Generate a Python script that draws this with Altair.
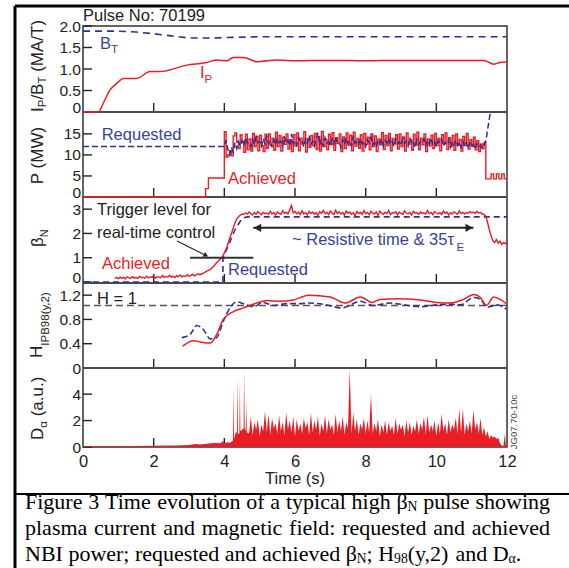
import altair as alt
import pandas as pd

# ---------------- colours / fonts ----------------
RED = "#ec1c24"
BLUE = "#2e3192"
BLUE_T = "#3b3f9e"
INK = "#222222"
SANS = "Liberation Sans"
SERIF = "Liberation Serif"

W, H = 424, 421          # plot area (all five panels)
X0, Y0 = 83, 26          # plot origin on the page

# ---------------- data ----------------
TIME_TICKS = [2, 4, 6, 8, 10]

# panel 1: IP and BT
BT_T = [0, 1.0, 1.5, 2.0, 2.5, 3.0, 3.5, 4.0, 5.0, 12.0]
BT_V = [1.88, 1.88, 1.86, 1.82, 1.77, 1.72, 1.72, 1.73, 1.75, 1.75]
IP_T = [0, 0.43, 0.6, 0.76, 0.95, 1.14, 1.52, 1.9, 2.18, 2.94, 3.5, 3.79, 4.07, 4.25, 4.54,
        4.92, 5.49, 6.05, 7.0, 8.0, 9.0, 10.0, 11.0, 11.34, 11.5, 11.62, 11.8, 12.0]
IP_V = [0, 0, 0.25, 0.51, 0.66, 0.78, 0.78, 0.94, 0.94, 1.09, 1.15, 1.21, 1.19, 1.27, 1.27,
        1.17, 1.21, 1.19, 1.2, 1.19, 1.2, 1.2, 1.2, 1.2, 1.15, 1.11, 1.15, 1.16]

# panel 2: NBI power (sampled every 0.05 s from 4.00 s)
PREQ_HEAD_T = [0, 3.97]
PREQ_HEAD_V = [12.0, 12.0]
PREQ_V = [12.0, 13.5, 11.2, 10.0, 11.8, 10.6, 12.9, 11.5, 13.2, 12.1,
          13.4, 12.2, 14.1, 12.8, 13.0, 11.9, 13.7, 12.5, 14.3, 12.9,
          13.1, 12.0, 13.9, 12.6, 14.5, 12.7, 13.3, 11.8, 13.6, 12.4,
          14.0, 12.9, 13.2, 12.1, 14.4, 12.8, 13.5, 12.2, 15.0, 12.6,
          13.4, 12.3, 14.2, 12.9, 13.1, 11.9, 13.8, 12.7, 14.6, 12.5,
          13.3, 12.1, 13.9, 15.3, 12.4, 13.6, 12.0, 14.1, 12.8, 13.2,
          12.2, 13.8, 12.6, 14.3, 12.9, 13.0, 11.8, 13.7, 12.5, 14.0,
          12.7, 13.4, 12.1, 14.5, 12.8, 13.1, 12.3, 13.9, 12.6, 13.3,
          12.0, 13.6, 12.9, 14.2, 12.4, 13.0, 11.9, 13.5, 12.7, 13.8,
          12.2, 13.4, 12.8, 14.0, 12.5, 13.2, 12.0, 13.7, 12.6, 13.1,
          12.3, 13.9, 12.7, 13.3, 12.1, 14.1, 12.5, 13.0, 11.8, 13.6,
          12.4, 13.2, 12.9, 13.8, 12.2, 13.5, 12.6, 14.0, 12.3, 13.1,
          12.0, 13.4, 12.8, 13.7, 12.1, 13.0, 12.5, 13.6, 11.9, 13.2,
          12.4, 13.5, 12.2, 13.0, 11.8, 13.3, 12.0, 12.9, 11.6, 12.8,
          11.9, 12.6, 11.4, 12.7, 11.8, 12.3, 11.5, 12.4]
PREQ_TAIL_T = [11.40, 11.46, 11.53]
PREQ_TAIL_V = [13.2, 16.5, 20.2]

PACH_HEAD_T = [0, 3.47, 3.55]
PACH_HEAD_V = [0, 2.0, 4.5]
PACH_V = [15.5, 9.5, 10.0, 11.0, 9.8, 14.5, 15.2, 13.0, 11.5, 14.8,
          13.2, 10.6, 14.9, 11.2, 13.8, 10.9, 15.1, 12.0, 14.4, 11.0,
          14.7, 12.2, 10.8, 14.9, 11.6, 15.0, 12.3, 13.9, 11.1, 15.4,
          12.0, 14.6, 10.9, 14.2, 12.5, 15.0, 11.4, 13.6, 10.8, 14.8,
          12.1, 15.2, 11.0, 14.0, 12.6, 15.5, 10.7, 13.9, 11.8, 14.6,
          12.2, 15.1, 11.3, 14.4, 10.9, 15.6, 12.0, 13.7, 11.2, 14.9,
          12.4, 15.3, 11.1, 14.1, 12.7, 15.0, 10.8, 14.3, 11.5, 15.2,
          12.3, 14.7, 11.0, 15.4, 12.1, 13.9, 11.6, 14.8, 10.9, 15.1,
          12.5, 14.2, 11.2, 15.0, 12.0, 14.5, 10.8, 13.8, 12.4, 15.3,
          11.3, 14.6, 12.2, 15.1, 11.0, 13.9, 12.6, 14.8, 11.4, 15.0,
          12.0, 14.3, 10.9, 15.2, 12.5, 13.6, 11.1, 14.9, 12.3, 15.4,
          11.2, 14.0, 12.4, 15.0, 10.8, 13.8, 12.1, 14.7, 11.5, 15.1,
          12.2, 13.9, 11.0, 14.8, 12.6, 15.2, 11.3, 14.1, 12.0, 14.6,
          11.1, 15.0, 12.3, 13.7, 10.9, 14.4, 12.2, 15.1, 11.4, 13.6,
          12.0, 14.2, 11.2, 13.4, 10.8, 12.6, 11.5, 13.0]
PACH_TAIL_T = [11.40, 11.55, 11.62, 11.70, 11.77, 11.85, 11.92, 12.0]
PACH_TAIL_V = [4.3, 5.5, 4.3, 5.5, 4.3, 5.5, 4.3, 4.3]

# panel 3: beta_N
BREQ_T = [0, 3.96, 3.96, 4.1, 4.3, 4.5, 4.65, 12.0]
BREQ_V = [0, 0, 1.0, 1.45, 2.15, 2.62, 2.68, 2.68]
BLOW_V = [0.15, 0.18, 0.14, 0.20, 0.16, 0.19, 0.13, 0.21, 0.17, 0.15,
          0.22, 0.16, 0.19, 0.14, 0.23, 0.18, 0.20, 0.15, 0.24, 0.17,
          0.21, 0.19, 0.26, 0.16, 0.22, 0.20, 0.18, 0.27, 0.19, 0.23,
          0.21, 0.28, 0.20, 0.24, 0.18, 0.26, 0.22, 0.29, 0.21, 0.25,
          0.23, 0.30, 0.24, 0.27, 0.32, 0.25, 0.29, 0.34, 0.30, 0.33,
          0.36, 0.40, 0.45]
BRAMP_T = [3.60, 3.70, 3.78, 3.85, 3.93, 4.00, 4.07, 4.14, 4.21, 4.28, 4.35, 4.42, 4.50]
BRAMP_V = [0.51, 0.65, 0.79, 0.90, 1.00, 1.20, 1.42, 1.75, 2.04, 2.35, 2.60, 2.72, 2.80]
BHIGH_V = [2.78, 2.85, 2.80, 2.88, 2.82, 2.76, 2.86, 2.79, 2.90, 2.83,
           2.77, 2.87, 2.81, 2.84, 2.78, 2.92, 2.80, 2.86, 2.75, 2.89,
           2.82, 2.79, 2.94, 2.83, 2.88, 2.80, 2.97, 3.15, 2.84, 2.90,
           2.81, 2.87, 2.78, 2.93, 2.80, 2.85, 2.76, 2.91, 2.82, 2.88,
           2.79, 2.86, 2.74, 2.90, 2.83, 2.95, 2.81, 2.87, 2.77, 2.92,
           2.84, 2.78, 2.96, 2.82, 2.89, 2.80, 2.86, 2.75, 2.93, 2.83,
           2.88, 2.79, 2.85, 2.72, 2.90, 2.82, 2.87, 2.78, 2.94, 2.81,
           2.86, 2.77, 2.91, 2.83, 2.80, 2.88, 2.74, 2.92, 2.84, 2.79,
           2.87, 2.81, 2.95, 2.78, 2.85, 2.83, 2.90, 2.76, 2.88, 2.82,
           2.79, 2.93, 2.84, 2.80, 2.87, 2.75, 2.91, 2.83, 2.86, 2.78,
           2.89, 2.82, 2.85, 2.79, 2.94, 2.81, 2.87, 2.77, 2.90, 2.84,
           2.80, 2.86, 2.78, 2.92, 2.83, 2.88, 2.76, 2.85, 2.81, 2.89,
           2.84, 2.79, 2.93, 2.82, 2.87, 2.80, 2.86, 2.83, 2.90, 2.85,
           2.88, 2.82, 2.91, 2.84, 2.87, 2.80]
BDROP_T = [11.35, 11.40, 11.45, 11.50, 11.55, 11.60, 11.65, 11.70, 11.75, 11.80, 11.85, 11.90, 11.95, 12.0]
BDROP_V = [2.78, 2.70, 2.45, 2.15, 1.90, 1.70, 1.62, 1.75, 1.60, 1.68, 1.55, 1.62, 1.58, 1.66]
TRIGGER = 1.0
TRIGGER_T = [3.03, 4.82]
RESIST_T = [4.82, 11.05]
RESIST_Y = 2.23

# panel 4: H98(y,2)
HR_T = [2.82, 3.12, 3.31, 3.6, 3.78, 3.97, 4.26, 4.54, 4.92, 5.2, 5.58, 5.96, 6.38, 7.0, 7.42,
        7.85, 8.18, 8.41, 8.89, 9.55, 10.02, 10.4, 10.77, 11.06, 11.25, 11.42, 11.62, 11.81, 11.98]
HR_V = [0.36, 0.45, 0.43, 0.41, 0.55, 0.8, 0.93, 0.99, 1.07, 1.11, 1.1, 1.12, 1.2, 1.17, 1.07,
        1.17, 1.08, 1.13, 1.14, 1.12, 1.08, 1.07, 1.13, 1.21, 1.16, 1.03, 1.17, 1.13, 1.06]
HB_T = [2.8, 3.03, 3.22, 3.41, 3.6, 3.78, 3.97, 4.16, 4.35, 4.54, 4.82, 5.1, 5.39, 5.77, 6.15,
        6.38, 6.8, 7.33, 7.85, 8.18, 8.7, 8.98, 9.55, 10.02, 10.4, 10.68, 11.06, 11.25, 11.44,
        11.72, 11.98]
HB_V = [0.5, 0.55, 0.70, 0.63, 0.48, 0.5, 0.77, 0.99, 1.09, 1.06, 1.01, 1.08, 1.03, 1.06, 1.06,
        1.07, 1.05, 0.99, 1.1, 1.03, 1.07, 1.05, 1.01, 1.04, 1.05, 1.04, 1.16, 1.13, 1.0, 1.04, 0.97]
H_ONE = 1.03

# panel 5: D-alpha
DA_HEAD_T = [0, 0.5, 1.0, 1.5, 2.0, 2.3, 2.6, 3.0, 3.2, 3.3, 3.5, 3.7, 3.9, 3.95, 4.0, 4.1, 4.15,
             4.2, 4.245, 4.26, 4.275, 4.33, 4.355, 4.37, 4.385, 4.425, 4.44, 4.455, 4.5, 4.545,
             4.56, 4.575, 4.605, 4.62, 4.635, 4.66]
DA_HEAD_V = [0.05, 0.05, 0.06, 0.08, 0.1, 0.12, 0.12, 0.15, 0.22, 0.18, 0.25, 0.3, 0.28, 0.45, 0.3,
             0.35, 0.3, 0.4, 0.5, 4.4, 0.6, 1.2, 1.0, 5.2, 1.0, 1.0, 4.8, 1.2, 1.3, 1.4,
             5.9, 1.5, 1.2, 3.4, 1.1, 1.1]
DA_V = [1.0, 2.3, 0.9, 1.9, 1.3, 2.1, 0.8, 1.7, 1.2, 2.7,
        1.1, 2.5, 0.9, 2.2, 1.4, 1.8, 1.0, 2.4, 1.2, 1.9,
        0.9, 2.6, 1.3, 2.0, 1.1, 2.3, 0.8, 2.1, 1.2, 1.8,
        1.0, 2.2, 1.4, 1.9, 0.9, 2.6, 1.1, 2.0, 1.3, 2.3,
        0.8, 1.8, 1.2, 2.4, 1.0, 2.1, 1.3, 1.7, 0.9, 2.5,
        1.1, 2.0, 1.2, 2.3, 0.9, 1.9, 1.4, 5.9, 1.0, 2.6,
        1.2, 2.1, 0.9, 1.8, 1.3, 2.2, 1.0, 2.0, 1.1, 4.0,
        1.0, 1.8, 1.2, 2.1, 0.8, 1.7, 1.1, 2.0, 0.9, 1.9,
        1.2, 1.6, 0.9, 2.2, 1.0, 1.8, 1.3, 1.7, 0.8, 2.0,
        1.1, 1.9, 0.9, 1.6, 1.2, 2.1, 1.0, 1.8, 1.3, 2.3,
        0.9, 2.4, 1.1, 1.7, 1.2, 2.0, 0.8, 1.9, 1.0, 2.5,
        1.2, 1.8, 0.9, 2.1, 1.1, 1.7, 1.3, 2.2, 1.0, 2.9,
        1.1, 2.9, 0.9, 1.8, 1.2, 2.0, 1.0, 2.8, 1.3, 1.9,
        1.0, 2.2, 0.9, 1.5, 0.8, 1.2, 0.6, 0.9]
DA_TAIL_T = [11.60, 11.65, 11.70, 11.75, 11.80, 11.85, 11.90, 11.94, 11.97, 12.0]
DA_TAIL_V = [0.7, 0.8, 0.6, 0.7, 0.3, 0.1, 0.1, 1.0, 0.1, 0.1]

CAPTION = [
    [[("Figure", 0)], [("3", 0)], [("Time", 0)], [("evolution", 0)], [("of", 0)], [("a", 0)],
     [("typical", 0)], [("high", 0)], [("β", 0), ("N", 1)], [("pulse", 0)], [("showing", 0)]],
    [[("plasma", 0)], [("current", 0)], [("and", 0)], [("magnetic", 0)], [("field:", 0)],
     [("requested", 0)], [("and", 0)], [("achieved", 0)]],
    [[("NBI", 0)], [("power;", 0)], [("requested", 0)], [("and", 0)], [("achieved", 0)],
     [("β", 0), ("N", 1), (";", 0)], [("H", 0), ("98", 1), ("(y,2)", 0)], [("and", 0)],
     [("D", 0), ("α", 1), (".", 0)]],
]


# ---------------- helpers ----------------
def grid(start, n, step=0.05):
    return [round(start + i * step, 3) for i in range(n)]


def series(*pairs):
    t, v = [], []
    for tt, vv in pairs:
        t += list(tt)
        v += list(vv)
    return pd.DataFrame({"t": t, "v": v})


xs = alt.Scale(domain=[0, 12], nice=False, zero=False)
xax = alt.Axis(values=[0, 2, 4, 6, 8, 10, 12], ticks=False, domain=False, grid=False,
               labelFont=SANS, labelFontSize=16.5, labelColor=INK, labelPadding=6,
               labelFlush=False, title=None)
X = alt.X("t:Q", scale=xs, axis=xax)

PANELS = {
    1: dict(domain=[0, 2.0], range=[86, 0], ticks=[0, 0.5, 1.0, 1.5, 2.0], fmt=".1f", lift=True),
    2: dict(domain=[0, 20.2], range=[171, 86], ticks=[0, 5, 10, 15], fmt="d", lift=True),
    3: dict(domain=[0, 3.5], range=[256, 171], ticks=[0, 1, 2, 3], fmt="d", lift=True),
    4: dict(domain=[0, 1.4], range=[342, 257], ticks=[0, 0.4, 0.8, 1.2], fmt=".1f", lift=False),
    5: dict(domain=[0, 5.9], range=[421, 343], ticks=[0, 2, 4], fmt="d", lift=False),
}
BOTTOMS = [86, 171, 257, 342, 421]


def yscale(k):
    p = PANELS[k]
    return alt.Scale(domain=p["domain"], range=p["range"], nice=False, zero=False)


def yaxis(k):
    p = PANELS[k]
    extra = {}
    if p["lift"]:
        extra["labelBaseline"] = alt.condition("datum.value == 0", alt.value("alphabetic"),
                                               alt.value("middle"))
    return alt.Axis(orient="left", values=p["ticks"], ticks=False, domain=False, grid=False,
                    labelFont=SANS, labelFontSize=15.5, labelColor=INK, labelPadding=2.5,
                    labelExpr="datum.value == 0 ? '0' : format(datum.value, '%s')" % p["fmt"],
                    title=None, **extra)


def Y(k, field="v", axis=False):
    return alt.Y(field + ":Q", scale=yscale(k), axis=yaxis(k) if axis else None)


layers = []

# y axes + inward y ticks
for k in PANELS:
    dft = pd.DataFrame({"v": PANELS[k]["ticks"]})
    layers.append(alt.Chart(dft).mark_rule(color=INK, strokeWidth=1.4).encode(
        x=alt.value(0), x2=alt.value(9), y=Y(k, axis=True)))

# inward x ticks at the bottom of each panel
xt = pd.DataFrame([{"t": t, "yb": b, "yt": b - 9} for b in BOTTOMS for t in TIME_TICKS])
layers.append(alt.Chart(xt).mark_rule(color=INK, strokeWidth=1.4).encode(
    x=X, y=alt.Y("yb:Q", scale=None), y2=alt.Y2("yt:Q")))

# panel separators
sep = pd.DataFrame({"y": BOTTOMS[:-1]})
layers.append(alt.Chart(sep).mark_rule(color="#4a4a4a", strokeWidth=2).encode(
    x=alt.value(0), x2=alt.value(W), y=alt.Y("y:Q", scale=None)))

# panel 1
layers.append(alt.Chart(series((BT_T, BT_V))).mark_line(
    color=BLUE, strokeWidth=1.6, strokeDash=[7, 5]).encode(x=X, y=Y(1)))
layers.append(alt.Chart(series((IP_T, IP_V))).mark_line(
    color=RED, strokeWidth=1.5, interpolate="monotone").encode(x=X, y=Y(1)))

# panel 2
pach = series((PACH_HEAD_T, PACH_HEAD_V), (grid(4.0, len(PACH_V)), PACH_V), (PACH_TAIL_T, PACH_TAIL_V))
layers.append(alt.Chart(pach).mark_line(color=RED, strokeWidth=1.4, interpolate="step-after").encode(
    x=X, y=Y(2)))
preq = series((PREQ_HEAD_T, PREQ_HEAD_V), (grid(4.0, len(PREQ_V)), PREQ_V), (PREQ_TAIL_T, PREQ_TAIL_V))
layers.append(alt.Chart(preq).mark_line(color=BLUE, strokeWidth=1.5, strokeDash=[6, 3]).encode(
    x=X, y=Y(2)))

# panel 3
layers.append(alt.Chart(series((BREQ_T, BREQ_V))).mark_line(
    color=BLUE, strokeWidth=1.6, strokeDash=[6, 4]).encode(x=X, y=Y(3)))
bach = series((grid(0.9, len(BLOW_V)), BLOW_V), (BRAMP_T, BRAMP_V),
              (grid(4.55, len(BHIGH_V)), BHIGH_V), (BDROP_T, BDROP_V))
layers.append(alt.Chart(bach).mark_line(color=RED, strokeWidth=1.4).encode(x=X, y=Y(3)))
trig = pd.DataFrame({"t": [TRIGGER_T[0]], "t2": [TRIGGER_T[1]], "v": [TRIGGER]})
layers.append(alt.Chart(trig).mark_rule(color="#333333", strokeWidth=2).encode(
    x=X, x2="t2:Q", y=Y(3)))
res = pd.DataFrame({"t": [RESIST_T[0]], "t2": [RESIST_T[1]], "v": [RESIST_Y]})
layers.append(alt.Chart(res).mark_rule(color="#222222", strokeWidth=2).encode(
    x=X, x2="t2:Q", y=Y(3)))
heads = [("triangle-left", RESIST_T[0] + 0.12), ("triangle-right", RESIST_T[1] - 0.12)]
for shape, t in heads:
    layers.append(alt.Chart(pd.DataFrame({"t": [t], "v": [RESIST_Y]})).mark_point(
        shape=shape, filled=True, size=70, color="#222222", opacity=1).encode(x=X, y=Y(3)))

# annotation arrow to trigger level (page-pixel annotation)
arrow = pd.DataFrame({"x": [94], "x2": [122], "y": [215], "y2": [229]})
layers.append(alt.Chart(arrow).mark_rule(color="#222222", strokeWidth=1.2).encode(
    x=alt.X("x:Q", scale=None), x2="x2:Q", y=alt.Y("y:Q", scale=None), y2="y2:Q"))
layers.append(alt.Chart(pd.DataFrame({"x": [123], "y": [229.5]})).mark_point(
    shape="triangle-right", angle=27, filled=True, size=30, color="#222222", opacity=1).encode(
    x=alt.X("x:Q", scale=None), y=alt.Y("y:Q", scale=None)))

# panel 4
layers.append(alt.Chart(pd.DataFrame({"v": [H_ONE]})).mark_rule(
    color="#555555", strokeWidth=1.5, strokeDash=[7, 4]).encode(
    x=alt.value(0), x2=alt.value(W), y=Y(4)))
layers.append(alt.Chart(series((HB_T, HB_V))).mark_line(
    color=BLUE, strokeWidth=1.6, strokeDash=[6, 3], interpolate="monotone").encode(x=X, y=Y(4)))
layers.append(alt.Chart(series((HR_T, HR_V))).mark_line(
    color=RED, strokeWidth=1.5, interpolate="monotone").encode(x=X, y=Y(4)))

# panel 5
da = series((DA_HEAD_T, DA_HEAD_V), (grid(4.7, len(DA_V)), DA_V), (DA_TAIL_T, DA_TAIL_V))
layers.append(alt.Chart(da).mark_area(color=RED, opacity=1, interpolate="linear").encode(
    x=X, y=Y(5)))

# outer frame of the figure (page-pixel annotation lines)
frame = pd.DataFrame({"x": [-68, -68, -68], "x2": [486, -68, 486],
                      "y": [-20, -20, 468], "y2": [-20, 542, 468], "w": [3, 3, 2]})
layers.append(alt.Chart(frame).mark_rule(color="#000000").encode(
    x=alt.X("x:Q", scale=None), x2="x2:Q", y=alt.Y("y:Q", scale=None), y2="y2:Q",
    strokeWidth=alt.StrokeWidth("w:Q", scale=None)))


def text_layer(rows, align="left", font=SANS, baseline="middle"):
    df = pd.DataFrame(rows, columns=["px", "py", "text", "size", "color", "angle"])
    return alt.Chart(df).mark_text(align=align, baseline=baseline, font=font).encode(
        x=alt.X("px:Q", scale=None), y=alt.Y("py:Q", scale=None), text="text:N",
        size=alt.Size("size:Q", scale=None), color=alt.Color("color:N", scale=None),
        angle=alt.Angle("angle:Q", scale=None))


ann_left = [
    [0, -10, "Pulse No: 70199", 16.5, INK, 0],
    [17, 18, "B", 16.5, BLUE_T, 0],
    [28, 24, "T", 11.5, BLUE_T, 0],
    [117, 47, "I", 16.5, RED, 0],
    [121.6, 54, "P", 11.5, RED, 0],
    [18.7, 109, "Requested", 16.5, BLUE_T, 0],
    [145, 153, "Achieved", 16.5, RED, 0],
    [14, 184, "Trigger level for", 16.5, INK, 0],
    [14, 207, "real-time control", 16.5, INK, 0],
    [19, 238, "Achieved", 16.5, RED, 0],
    [145, 244, "Requested", 16.5, BLUE_T, 0],
    [209, 214, "~ Resistive time & 35τ", 16.5, BLUE_T, 0],
    [373.5, 222, "E", 11.5, BLUE_T, 0],
    [14, 272.5, "H = 1", 16.5, INK, 0],
    # rotated y titles (read bottom to top)
    [-45, 86, "I", 17, INK, 270],
    [-40, 81.3, "P", 11.5, INK, 270],
    [-45, 73.6, "/B", 17, INK, 270],
    [-40, 57.5, "T", 11.5, INK, 270],
    [-45, 45.8, "(MA/T)", 17, INK, 270],
    [-45.5, 221, "β", 17, INK, 270],
    [-38, 211.2, "N", 11, INK, 270],
    [-46, 332, "H", 17, INK, 270],
    [-37, 319.7, "IPB98(y,2)", 11.5, INK, 270],
    [-45, 414, "D", 17, INK, 270],
    [-39, 401.7, "α", 11.5, INK, 270],
    [-45, 390.3, "(a.u.)", 17, INK, 270],
]
ann_center = [
    [212, 453, "Time (s)", 16.5, INK, 0],
    [-45, 129.5, "P (MW)", 17, INK, 270],
    [430.5, 396, "JG07.70-10c", 9.5, "#444444", 270],
]
layers.append(text_layer(ann_left, "left"))
layers.append(text_layer(ann_center, "center"))

# caption (Times metrics; lines 1-2 justified)
TIMES = {' ': 250, 'a': 444, 'b': 500, 'c': 444, 'd': 500, 'e': 444, 'f': 333, 'g': 500, 'h': 500,
         'i': 278, 'j': 278, 'k': 500, 'l': 278, 'm': 778, 'n': 500, 'o': 500, 'p': 500, 'q': 500,
         'r': 333, 's': 389, 't': 278, 'u': 500, 'v': 500, 'w': 722, 'x': 500, 'y': 500, 'z': 444,
         'B': 667, 'D': 722, 'F': 556, 'H': 722, 'I': 333, 'N': 722, 'T': 611, '(': 333, ')': 333,
         ',': 250, '.': 250, ':': 278, ';': 278, 'β': 500, 'α': 530}


def tw(s, fs):
    return sum(TIMES.get(c, 500) for c in s) * fs / 1000.0


CAP_FS = 22
CAP_SUB = 0.62
CAP_Y = [502, 528, 554]
CAP_LEFT, CAP_RIGHT = 25, 550
cap_rows = []
for li, words in enumerate(CAPTION):
    widths = [sum(tw(s, CAP_FS * (CAP_SUB if sub else 1)) for s, sub in w) for w in words]
    if li < 2:
        gap = (CAP_RIGHT - CAP_LEFT - sum(widths)) / (len(words) - 1)
    else:
        gap = 0.25 * CAP_FS
    x = CAP_LEFT - X0
    y = CAP_Y[li] - Y0
    for w, wd in zip(words, widths):
        xx = x
        for s, sub in w:
            fs = CAP_FS * (CAP_SUB if sub else 1)
            cap_rows.append([xx, y + (0.22 * CAP_FS if sub else 0), s, fs, "#000000", 0])
            xx += tw(s, fs)
        x += wd + gap
layers.append(text_layer(cap_rows, "left", SERIF))

chart = alt.layer(*layers).resolve_scale(y="independent").properties(
    width=W, height=H,
    autosize=alt.AutoSizeParams(type="none"),
    padding={"left": X0, "top": Y0, "right": 569 - X0 - W, "bottom": 568 - Y0 - H},
).configure_view(stroke="#333333", strokeWidth=1.5)

chart.save("out.html", embed_options={"renderer": "svg", "actions": False})
